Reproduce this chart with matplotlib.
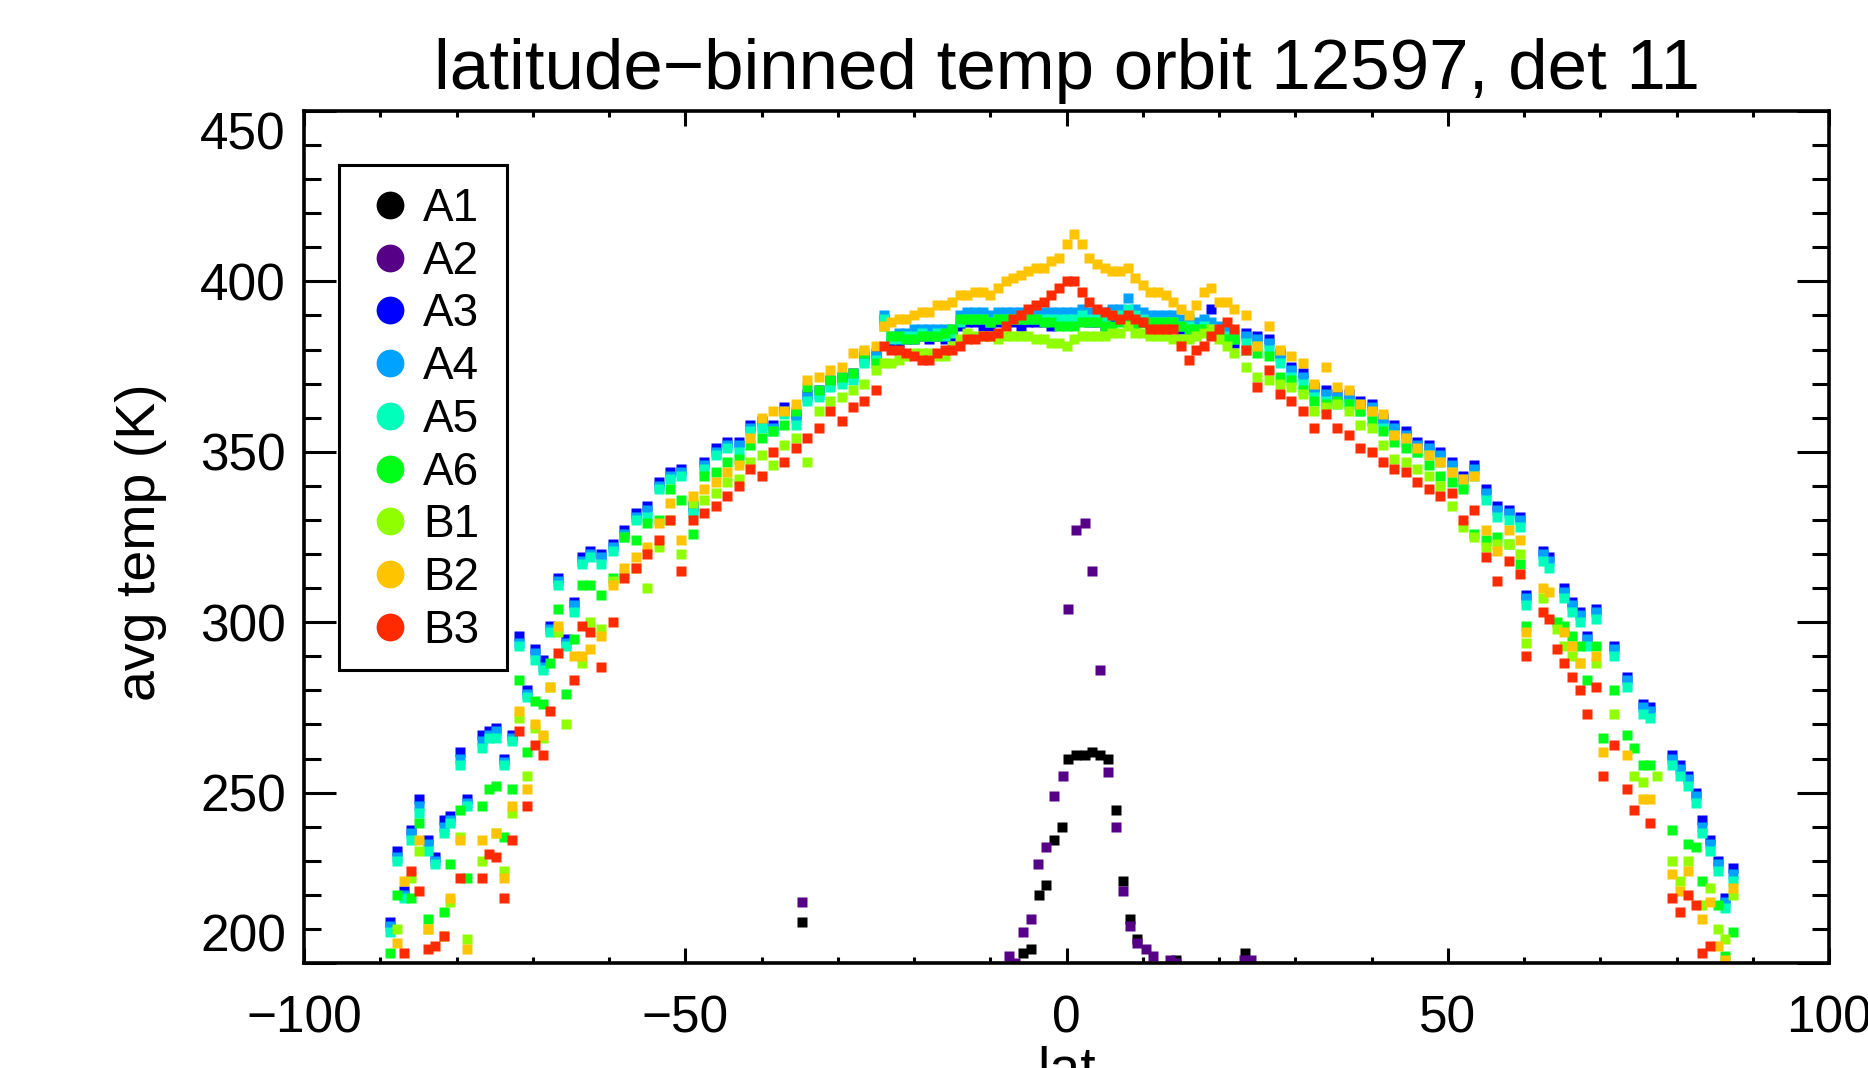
import numpy as np
import matplotlib

matplotlib.use("Agg")
import matplotlib.pyplot as plt
from matplotlib.lines import Line2D
from matplotlib.patches import Rectangle
from matplotlib.ticker import MultipleLocator

plt.rcParams["font.family"] = ["Liberation Sans", "DejaVu Sans"]

# ---- latitude bins (deg) shared by the A3..B3 channels ----
LAT_FAR_L = [-88.7, -87.8, -86.9, -86.0, -84.9, -83.7, -82.8, -81.7, -80.8, -79.6, -78.6, -76.7, -75.8,
             -74.8, -73.8, -72.7, -71.8, -70.8, -69.7, -68.6, -67.7, -66.7, -65.6, -64.6, -63.6]
LAT_MID_L = [-62.5, -61.0, -59.5, -58.0, -56.5, -55.0, -53.5, -52.0, -50.5, -49.0, -47.5, -46.0, -44.5,
             -43.0, -41.5, -40.0, -38.5, -37.0, -35.5, -34.0, -32.5, -31.0, -29.5, -28.0, -26.5, -25.0]
LAT_CTR = [-24, -23, -22, -21, -20, -19, -18, -17, -16, -15, -14, -13, -12, -11, -10, -9, -8, -7, -6, -5,
           -4, -3, -2, -1, 0, 1, 2, 3, 4, 5, 6, 7, 8, 9, 10, 11, 12, 13, 14, 15, 16, 17, 18, 19, 20, 21, 22]
LAT_MID_R = [23.5, 25.0, 26.5, 28.0, 29.5, 31.0, 32.5, 34.0, 35.5, 37.0, 38.5, 40.0, 41.5, 43.0, 44.5,
             46.0, 47.5, 49.0, 50.5, 52.0, 53.5, 55.0, 56.5, 58.0, 59.5]
LAT_FAR_R = [60.3, 62.5, 63.3, 64.3, 65.3, 66.3, 67.4, 68.3, 69.5, 70.4, 71.8, 73.5, 74.4, 75.6, 76.5,
             77.4, 79.4, 80.5, 81.5, 82.5, 83.3, 84.4, 85.4, 86.4, 87.4]

# ---- avg temp (K) per channel; rows follow the five latitude blocks above ----
A3 = [212, 233, 221, 239, 248, 236, 231, 242, 243, 262, 248, 267, 268, 269, 260, 267, 296, 280, 292, 289, 299, 313, 295, 306, 319,
      321, 320, 323, 327, 332, 334, 341, 344, 345, 334, 347, 351, 353, 353, 358, 359, 358, 363, 361, 367, 368, 371, 372, 373, 378, 379,
      389, 382, 382, 383, 383, 384, 383, 384, 383, 384, 387, 388, 388, 387, 387, 388, 388, 388, 387, 388, 388, 388, 387, 388,
      388, 388, 389, 388, 388, 387, 389, 389, 388, 389, 388, 387, 387, 387, 387, 386, 386, 385, 386, 392, 384, 383, 382,
      385, 384, 383, 379, 375, 373, 369, 368, 367, 367, 365, 364, 360, 358, 356, 353, 352, 350, 347, 343, 346, 339, 334, 333, 331,
      308, 321, 319, None, 310, 306, 303, 296, 304, None, 293, 284, None, 276, 275, None, 261, 258, 255, 250, 242, 236, 230, 219, 228]
A4 = [211, 231, 220, 238, 246, 235, 230, 240, 242, 260, 247, 265, 267, 268, 259, 266, 294, 279, 291, 287, 298, 312, 294, 305, 318,
      320, 319, 322, 326, 331, 333, 340, 343, 344, 333, 346, 350, 352, 352, 357, 358, 357, 362, 360, 366, 367, 370, 371, 372, 377, 378,
      390, 384, 385, 385, 386, 386, 386, 386, 386, 386, 390, 391, 391, 391, 390, 391, 391, 391, 391, 391, 391, 391, 391, 391,
      391, 391, 392, 391, 391, 391, 392, 392, 395, 392, 391, 390, 390, 390, 390, 389, 389, 388, 389, 388, 387, 386, 385,
      384, 383, 382, 378, 374, 372, 368, 367, 366, 366, 364, 363, 359, 357, 355, 352, 351, 349, 346, 342, 345, 338, 333, 332, 330,
      307, 320, 318, None, 309, 305, 302, 295, 303, None, 292, 283, None, 275, 274, None, 260, 257, 254, 249, 240, 235, 229, 218, 226]
A5 = [209, 230, 219, 236, 244, 233, 229, 238, 241, 258, 246, 263, 266, 266, 258, 265, 293, 278, 289, 286, 297, 311, 293, 303, 317,
      319, 317, 321, 325, 330, 331, 339, 342, 343, 332, 345, 349, 351, 350, 356, 357, 356, 361, 358, 365, 366, 369, 370, 371, 376, 377,
      389, 383, 383, 384, 384, 385, 384, 385, 384, 385, 388, 389, 389, 389, 388, 389, 389, 389, 389, 389, 389, 389, 389, 389,
      389, 389, 390, 389, 389, 389, 390, 390, 392, 390, 389, 388, 388, 388, 388, 387, 387, 386, 387, 386, 385, 384, 383,
      382, 381, 380, 376, 372, 370, 366, 365, 364, 364, 362, 361, 357, 355, 353, 350, 349, 347, 344, 340, 343, 336, 331, 330, 328,
      305, 318, 316, None, 307, 303, 300, 293, 301, None, 290, 281, None, 273, 272, None, 258, 255, 252, 247, 238, 233, 227, 216, 224]
A6 = [203, 220, None, 219, 241, 213, None, 215, 229, 245, 225, 246, 251, 252, 237, 251, 283, 262, 277, 276, 288, 304, 279, 295, 311,
      311, 308, 313, 325, 324, 329, 330, 339, 336, 326, 343, 344, 347, 348, 352, 354, 356, 358, 362, 369, 368, 371, 372, 373, 379, 376,
      387, 384, 384, 383, 383, 384, 384, 384, 385, 386, 389, 389, 389, 389, 388, 389, 389, 389, 389, 389, 389, 388, 388, 387,
      387, 387, 388, 388, 388, 387, 387, 388, 388, 387, 388, 388, 388, 388, 388, 387, 386, 386, 386, 385, 384, 383, 383,
      380, 379, 378, 372, 371, 368, 365, 364, 365, 364, 362, 359, 356, 353, 351, 350, 346, 343, 341, 339, 326, 324, 325, 323, 317,
      299, None, None, 300, 299, 296, 293, 283, 293, 266, 280, 267, 263, 258, 258, None, 239, None, 235, 234, 224, None, 217, 202, 209]
B1 = [None, 210, None, 225, 233, 210, None, 208, 218, 237, 207, 230, None, 238, 227, 244, 272, 255, 269, 266, 281, 297, 270, None, 288,
      300, 298, 312, 314, 316, 310, 322, 330, 320, 335, 336, 338, 341, 342, 347, 349, 346, 352, 354, 347, 362, 365, 366, 368, 370, 374,
      376, 376, 377, 378, 379, 379, 379, 378, 378, 381, 383, 385, 384, 384, 384, 383, 384, 384, 384, 384, 383, 383, 382, 382,
      381, 383, 384, 384, 384, 384, 385, 385, 387, 385, 385, 384, 384, 384, 383, 383, 383, 384, 385, 386, 383, 381, 379,
      375, 372, 371, 370, 369, 367, 362, 363, 364, 362, 358, 357, 352, 348, 347, 345, 343, 340, 334, 328, 325, 322, 323, 323, 320,
      294, 307, None, 298, 293, 290, 288, None, 288, None, 273, None, 255, 253, None, 255, 230, 224, 230, None, 217, 222, 210, 207, 220]
B2 = [None, 206, 224, None, 236, 210, None, None, 219, 236, 204, 236, None, 238, 225, 246, 274, 251, 270, 267, 281, 299, None, 290, 290,
      292, 296, 311, 316, 319, 322, 329, 335, 324, 337, 339, 341, 344, 346, 354, 360, 362, 362, 364, 371, 372, 374, 375, 379, 380, 381,
      387, 388, 389, 389, 390, 391, 391, 393, 393, 394, 396, 396, 397, 397, 396, 398, 400, 401, 402, 403, 404, 404, 406, 407,
      411, 414, 411, 407, 405, 404, 403, 403, 404, 401, 399, 397, 397, 396, 394, 392, 390, 393, 397, 398, 394, 394, 392,
      390, 381, 387, 380, 378, 376, 370, 375, 369, 368, 364, 362, 361, 355, 354, 351, 349, 347, 344, 342, 343, 327, 321, 327, 324,
      297, 310, 309, None, 297, 293, 288, None, 290, 262, None, 261, None, 248, 248, None, 226, 221, 227, None, 213, 218, 205, 201, 222]
B3 = [None, None, 203, 227, 221, 204, 205, 208, None, 225, None, 225, 232, 231, 219, 236, 268, 246, 264, 261, 274, 291, None, 283, 299,
      297, 287, 300, 313, 316, 320, 324, 330, 315, 330, 332, 334, 337, 340, 345, 343, 350, 347, 351, 354, 357, 362, 359, 363, 365, 368,
      381, 380, 380, 379, 378, 377, 377, 379, 380, 380, 381, 383, 383, 384, 384, 385, 387, 389, 390, 392, 393, 394, 396, 398,
      400, 400, 397, 394, 392, 391, 390, 389, 390, 389, 388, 386, 386, 386, 386, 381, 377, 380, 381, 384, 386, 388, 386,
      380, 369, 374, 367, 365, 362, 357, 361, 357, 355, 351, 350, 347, 345, 344, 341, 339, 337, 338, 330, 333, 319, 312, 318, 314,
      290, 303, 301, 292, 288, 284, 280, 273, 281, 255, 264, 251, 245, None, 241, None, 219, 215, 220, 217, 203, 205, None, None, None]

# ---- A1 / A2 only register near the equator (own bins) ----
A1_LAT = [-34.7, -5.7, -4.6, -3.6, -2.7, -1.6, -0.6, 0.2, 1.3, 2.4, 3.3, 4.4, 5.4, 6.5, 7.4, 8.3, 9.3, 14.4, 23.4]
A1 = [212, 203, 204, 220, 223, 236, 240, 260, 261, 261, 262, 261, 260, 245, 224, 213, 207, 201, 203]
A2_LAT = [-34.7, -7.6, -6.8, -5.7, -4.6, -3.7, -2.7, -1.6, -0.5, 0.2, 1.3, 2.4, 3.3, 4.4, 5.4, 6.5, 7.4,
          8.3, 9.3, 10.4, 11.4, 13.6, 14.4, 23.3, 24.2]
A2 = [218, 202, 200, 209, 213, 229, 234, 249, 255, 304, 327, 329, 315, 286, 256, 240, 221,
      211, 206, 204, 202, 201, 200, 201, 201]

NAMES = ["A1", "A2", "A3", "A4", "A5", "A6", "B1", "B2", "B3"]
COLORS = ["#000000", "#560088", "#0000ff", "#00a2ff", "#00ffbb", "#00ff18", "#90ff00", "#ffc400", "#ff2a00"]

W, H = 1868, 1068
fig = plt.figure(figsize=(W / 100, H / 100), dpi=100)
ax = fig.add_axes([304 / W, 105 / H, 1525 / W, 852 / H])

lat_all = np.array(LAT_FAR_L + LAT_MID_L + LAT_CTR + LAT_MID_R + LAT_FAR_R, dtype=float)
series = {
    "A1": (np.array(A1_LAT, float), np.array(A1, float)),
    "A2": (np.array(A2_LAT, float), np.array(A2, float)),
}
for name, vals in zip(NAMES[2:], [A3, A4, A5, A6, B1, B2, B3]):
    series[name] = (lat_all, np.array(vals, dtype=float))

for name, col in zip(NAMES, COLORS):
    x, y = series[name]
    ax.plot(x, y, ls="none", marker="s", ms=6.6, mec="none", color=col)

ax.set_xlim(-100, 100)
ax.set_ylim(200, 450)
ax.set_xticks([-100, -50, 0, 50, 100])
ax.set_yticks([200, 250, 300, 350, 400, 450])
ax.xaxis.set_minor_locator(MultipleLocator(10))
ax.yaxis.set_minor_locator(MultipleLocator(10))
ax.tick_params(which="both", direction="in", top=True, right=True, width=2.2, labelsize=37)
ax.tick_params(axis="y", which="major", length=23, pad=13)
ax.tick_params(axis="y", which="minor", length=12)
ax.tick_params(axis="x", which="major", length=11, pad=23)
ax.tick_params(axis="x", which="minor", length=4.5)
for sp in ax.spines.values():
    sp.set_linewidth(2.6)

ylabs = ax.get_yticklabels()
ylabs[0].set_va("bottom")
ylabs[-1].set_va("top")

ax.set_title("latitude\u2212binned temp orbit 12597, det 11", fontsize=51, pad=16)
ax.set_ylabel("avg temp (K)", fontsize=40)
ax.yaxis.set_label_coords((167 - 304) / 1525, 0.494)
ax.set_xlabel("lat", fontsize=40)
ax.xaxis.set_label_coords(0.5, (963 - 1045) / 852)

handles = [Line2D([], [], ls="none", marker="o", ms=20, mec="none", color=c) for c in COLORS]
leg = ax.legend(handles, NAMES, loc="upper left", bbox_to_anchor=(367 / W, 1 - 187 / H),
                bbox_transform=fig.transFigure, borderaxespad=0, borderpad=0, frameon=False,
                fontsize=33, handlelength=1.0, handletextpad=0.22, labelspacing=0.19)
fig.add_artist(Rectangle((339 / W, 1 - 670 / H), 168 / W, 505 / H, transform=fig.transFigure,
                         fill=False, edgecolor="black", linewidth=2.2))

fig.savefig("out.png", dpi=100)
